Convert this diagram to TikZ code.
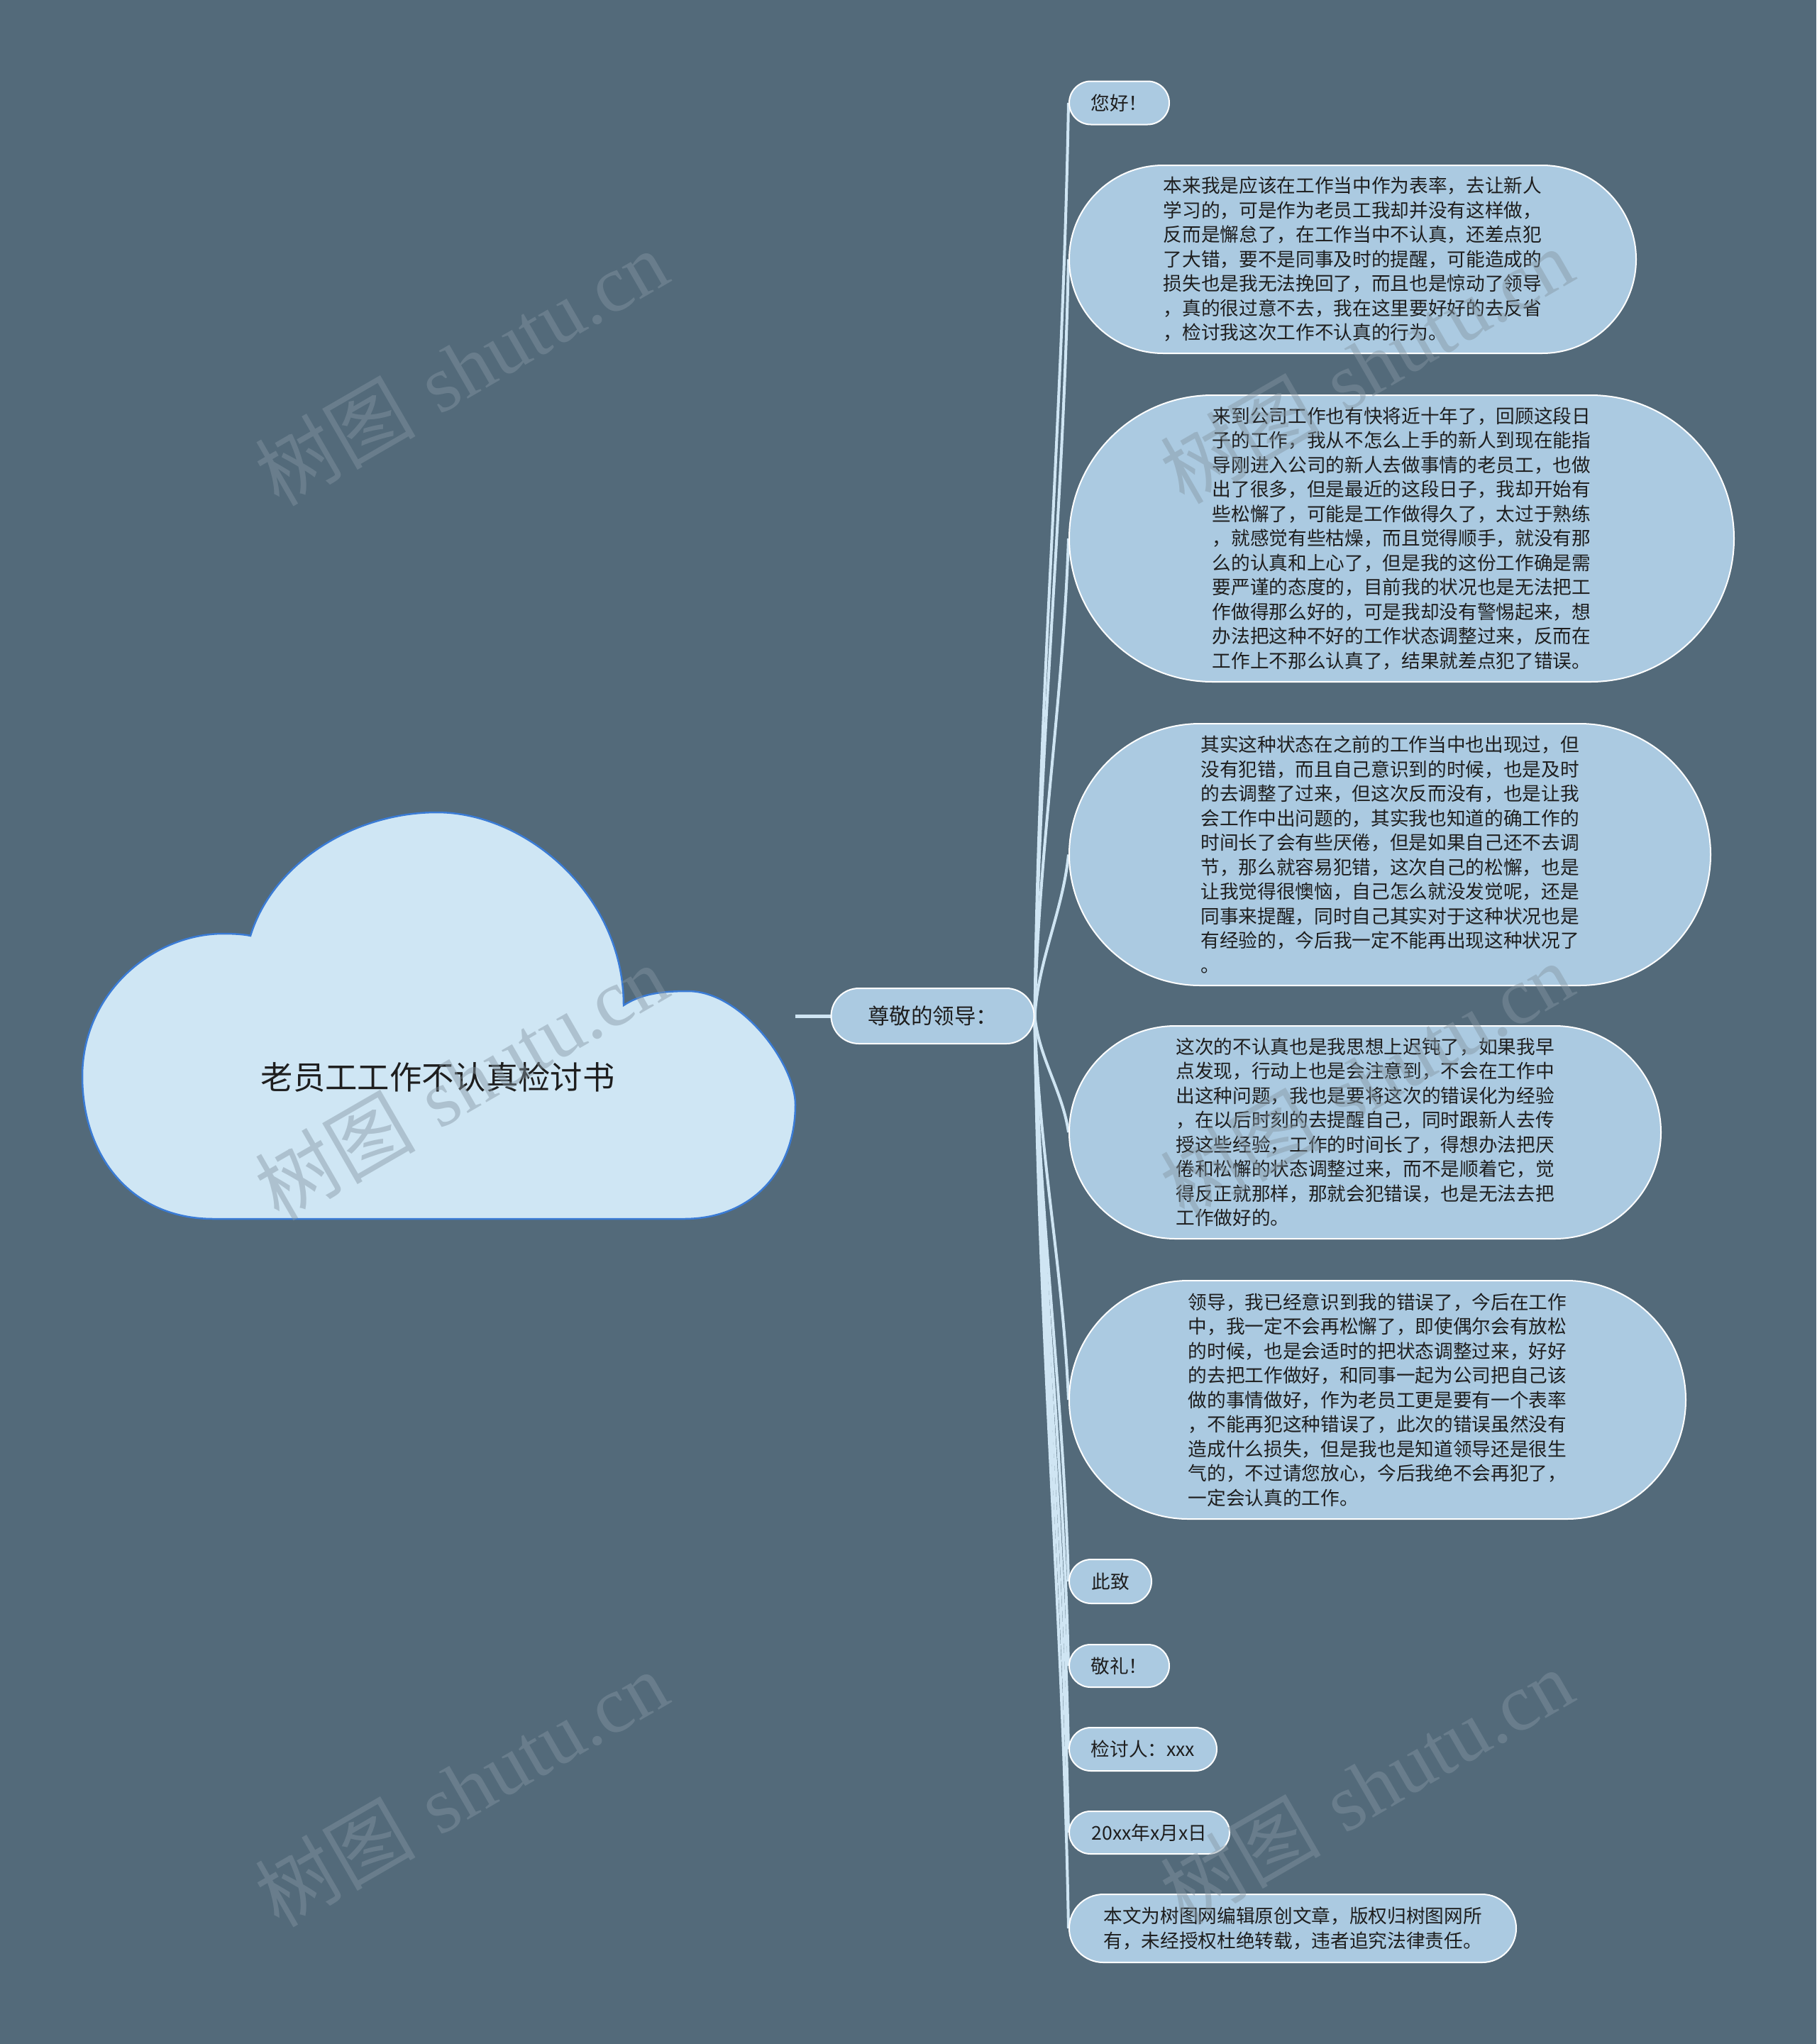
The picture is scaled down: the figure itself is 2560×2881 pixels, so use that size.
\documentclass[tikz,border=0pt]{standalone}
\usepackage{fontspec}
\newfontfamily\cjk{Noto Sans CJK SC}
\newfontfamily\wmserif{Liberation Serif}
\usetikzlibrary{calc}
\definecolor{bgc}{HTML}{536A7A}
\definecolor{nodefill}{HTML}{ABCAE1}
\definecolor{cloudfill}{HTML}{CFE6F4}
\definecolor{cloudline}{HTML}{3A7BD5}
\definecolor{connc}{HTML}{CFE5F3}
\definecolor{textc}{HTML}{1E1E1E}
\definecolor{wmc}{HTML}{8496A2}
\pgfdeclarelayer{bglayer}
\pgfdeclarelayer{linklayer}
\pgfsetlayers{bglayer,linklayer,main}
\begin{document}
\begin{tikzpicture}[x=0.3pt,y=-0.3pt,
 pill/.style 2 args={rectangle, draw=white, line width=0.6pt, fill=nodefill, text=textc, inner sep=0pt, align=left, minimum width=#1, minimum height=#2, rounded corners={(#2)/2}, font=\cjk\fontsize{8}{10.35}\selectfont},
 conn/.style={draw=connc, line width=1.2pt},
 cloudshape/.style={fill=cloudfill, draw=cloudline, line width=0.75pt},
 wm/.style={text=wmc, opacity=0.45, rotate=30, font=\fontsize{34}{34}\selectfont}
]
\useasboundingbox (0,0) rectangle (2560,2881);
\begin{pgfonlayer}{bglayer}
\fill[bgc] (0,0) rectangle (2560,2881);
\end{pgfonlayer}

% cloud
\draw[cloudshape] (353,1319) .. controls (385,1215) and (500,1145) .. (616,1145)
  .. controls (740,1145) and (879,1260) .. (879,1417)
  .. controls (905,1400) and (935,1397) .. (970,1397)
  .. controls (1045,1397) and (1121,1500) .. (1121,1557)
  .. controls (1121,1650) and (1060,1718) .. (964,1718)
  -- (301,1718)
  .. controls (185,1718) and (116,1630) .. (116,1517)
  .. controls (116,1400) and (215,1316) .. (315,1316)
  .. controls (330,1316) and (345,1317) .. (353,1319) -- cycle;
\node[text=textc, font=\cjk\fontsize{13.6}{16}\selectfont] (title) at (617,1518) {老员工工作不认真检讨书};
\coordinate (cloudR) at (1121,1432);

% hub
\node[pill={85.8pt}{23.4pt}, font=\cjk\fontsize{9.15}{11}\selectfont] (hub) at (1314.5,1432) {尊敬的领导：};

% children
\node[pill={42.3pt}{18.3pt}] (n1) at (1577.5,145) {您好！};
\node[pill={239.7pt}{79.5pt}] (n2) at (1906.5,365.5) {本来我是应该在工作当中作为表率，去让新人\\
学习的，可是作为老员工我却并没有这样做，\\
反而是懈怠了，在工作当中不认真，还差点犯\\
了大错，要不是同事及时的提醒，可能造成的\\
损失也是我无法挽回了，而且也是惊动了领导\\
，真的很过意不去，我在这里要好好的去反省\\
，检讨我这次工作不认真的行为。};
\node[pill={281.1pt}{121.2pt}] (n3) at (1975.5,759) {来到公司工作也有快将近十年了，回顾这段日\\
子的工作，我从不怎么上手的新人到现在能指\\
导刚进入公司的新人去做事情的老员工，也做\\
出了很多，但是最近的这段日子，我却开始有\\
些松懈了，可能是工作做得久了，太过于熟练\\
，就感觉有些枯燥，而且觉得顺手，就没有那\\
么的认真和上心了，但是我的这份工作确是需\\
要严谨的态度的，目前我的状况也是无法把工\\
作做得那么好的，可是我却没有警惕起来，想\\
办法把这种不好的工作状态调整过来，反而在\\
工作上不那么认真了，结果就差点犯了错误。};
\node[pill={271.2pt}{110.7pt}] (n4) at (1959,1204.5) {其实这种状态在之前的工作当中也出现过，但\\
没有犯错，而且自己意识到的时候，也是及时\\
的去调整了过来，但这次反而没有，也是让我\\
会工作中出问题的，其实我也知道的确工作的\\
时间长了会有些厌倦，但是如果自己还不去调\\
节，那么就容易犯错，这次自己的松懈，也是\\
让我觉得很懊恼，自己怎么就没发觉呢，还是\\
同事来提醒，同时自己其实对于这种状况也是\\
有经验的，今后我一定不能再出现这种状况了\\
。};
\node[pill={250.2pt}{90pt}] (n5) at (1924,1596) {这次的不认真也是我思想上迟钝了，如果我早\\
点发现，行动上也是会注意到，不会在工作中\\
出这种问题，我也是要将这次的错误化为经验\\
，在以后时刻的去提醒自己，同时跟新人去传\\
授这些经验，工作的时间长了，得想办法把厌\\
倦和松懈的状态调整过来，而不是顺着它，觉\\
得反正就那样，那就会犯错误，也是无法去把\\
工作做好的。};
\node[pill={260.7pt}{100.8pt}] (n6) at (1941.5,1973) {领导，我已经意识到我的错误了，今后在工作\\
中，我一定不会再松懈了，即使偶尔会有放松\\
的时候，也是会适时的把状态调整过来，好好\\
的去把工作做好，和同事一起为公司把自己该\\
做的事情做好，作为老员工更是要有一个表率\\
，不能再犯这种错误了，此次的错误虽然没有\\
造成什么损失，但是我也是知道领导还是很生\\
气的，不过请您放心，今后我绝不会再犯了，\\
一定会认真的工作。};
\node[pill={34.8pt}{18.6pt}] (n7) at (1565,2229) {此致};
\node[pill={42.3pt}{18pt}] (n8) at (1577.5,2348) {敬礼！};
\node[pill={62.4pt}{18.3pt}] (n9) at (1611,2465.5) {检讨人：xxx};
\node[pill={67.8pt}{18pt}] (n10) at (1620,2583) {20xx年x月x日};
\node[pill={189pt}{28.8pt}] (n11) at (1822,2718) {本文为树图网编辑原创文章，版权归树图网所\\
有，未经授权杜绝转载，违者追究法律责任。};

% connectors
\begin{pgfonlayer}{linklayer}
\draw[conn, line width=1.5pt] (cloudR) -- (hub.west);
\foreach \nd in {n1,n2,n3,n4,n5,n6,n7,n8,n9,n10,n11} {
  \draw[conn] let \p1=(hub.east), \p2=(\nd.west) in
    (\p1) .. controls (\x1+1.5pt,{\y1+0.35*(\y2-\y1)}) and (\x2-2.4pt,{\y2-0.35*(\y2-\y1)}) .. (\p2);
}
\end{pgfonlayer}

% watermarks
\node[wm] (wm1) at (650,518) {{\cjk 树图} {\wmserif shutu.cn}};
\node[wm] (wm2) at (1926,515) {{\cjk 树图} {\wmserif shutu.cn}};
\node[wm] (wm3) at (650,1525) {{\cjk 树图} {\wmserif shutu.cn}};
\node[wm] (wm4) at (1926,1522) {{\cjk 树图} {\wmserif shutu.cn}};
\node[wm] (wm5) at (650,2521) {{\cjk 树图} {\wmserif shutu.cn}};
\node[wm] (wm6) at (1926,2518) {{\cjk 树图} {\wmserif shutu.cn}};
\end{tikzpicture}
\end{document}
